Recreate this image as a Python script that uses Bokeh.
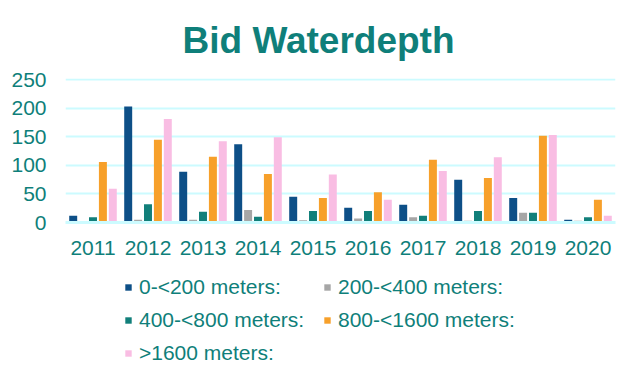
from bokeh.plotting import figure
from bokeh.models import ColumnDataSource, FactorRange, Legend, LegendItem
from bokeh.layouts import column
from bokeh.transform import dodge
from bokeh.embed import file_html
from bokeh.resources import INLINE

years = ["2011", "2012", "2013", "2014", "2015", "2016", "2017", "2018", "2019", "2020"]
s_0_200 = [12, 203, 89, 137, 45, 26, 31, 75, 43, 5]
s_200_400 = [0, 5, 5, 22, 4, 7, 9, 3, 17, 3]
s_400_800 = [9, 32, 19, 10, 20, 20, 12, 20, 17, 9]
s_800_1600 = [106, 145, 115, 85, 43, 53, 110, 78, 152, 40]
s_1600 = [59, 181, 142, 149, 84, 40, 90, 114, 153, 12]

series_names = ["0-<200 meters:", "200-<400 meters:", "400-<800 meters:",
                "800-<1600 meters:", ">1600 meters:"]
series_keys = ["a", "b", "c", "d", "e"]
colors = ["#0d4f87", "#a6a6a6", "#117f7a", "#f7a02a", "#f9bde3"]
offsets = [-0.36, -0.18, 0.0, 0.18, 0.36]

src = ColumnDataSource(dict(year=years, a=s_0_200, b=s_200_400, c=s_400_800,
                            d=s_800_1600, e=s_1600))

TEAL = "#0f7f7a"
FONT = "Liberation Sans"

p = figure(x_range=FactorRange(*years), y_range=(0, 252), width=625, height=265,
           output_backend="svg", toolbar_location=None, title="Bid Waterdepth",
           min_border_left=65, min_border_right=10, min_border_top=73,
           min_border_bottom=43)

p.title.text_font = FONT
p.title.text_font_size = "37px"
p.title.text_font_style = "bold"
p.title.text_color = TEAL
p.title.align = "left"
p.title.offset = 117
p.title.standoff = 35

for key, off, col in zip(series_keys, offsets, colors):
    p.vbar(x=dodge("year", off, range=p.x_range), top=key, width=0.145,
           source=src, fill_color=col, line_color=None)

p.outline_line_color = None
p.xgrid.grid_line_color = None
p.ygrid.grid_line_color = "#ccfbff"
p.ygrid.grid_line_width = 2
p.yaxis.ticker = [0, 50, 100, 150, 200, 250]
p.xaxis.axis_line_color = "#ccfbff"
p.xaxis.axis_line_width = 3
p.yaxis.axis_line_color = None
for ax in (p.xaxis[0], p.yaxis[0]):
    ax.major_tick_line_color = None
    ax.minor_tick_line_color = None
    ax.major_label_text_font = FONT
    ax.major_label_text_font_size = "21px"
    ax.major_label_text_color = TEAL
p.yaxis.major_label_standoff = 13
p.xaxis.major_label_standoff = 12
p.x_range.range_padding = 0
p.x_range.group_padding = 0

# legend figure
lg = figure(width=625, height=105, output_backend="svg", toolbar_location=None,
            x_axis_type=None, y_axis_type=None, min_border=0)
lg.outline_line_color = None
lg.grid.grid_line_color = None
items = []
for name, col in zip(series_names, colors):
    r = lg.vbar(x=[0], top=[0], width=0.0, fill_color=col, line_color=None)
    items.append(LegendItem(label=name, renderers=[r]))

legend = Legend(items=items, orientation="horizontal", ncols=2,
                label_text_font=FONT, label_text_font_size="21px",
                label_text_color=TEAL, glyph_width=8, glyph_height=8,
                label_standoff=7, spacing=8, label_height=25, label_width=176,
                border_line_color=None, background_fill_alpha=0,
                location=(59, 5), padding=0, margin=0)
lg.add_layout(legend, "center")

layout = column(p, lg, spacing=0)
open("out.html", "w").write(file_html(layout, INLINE))
